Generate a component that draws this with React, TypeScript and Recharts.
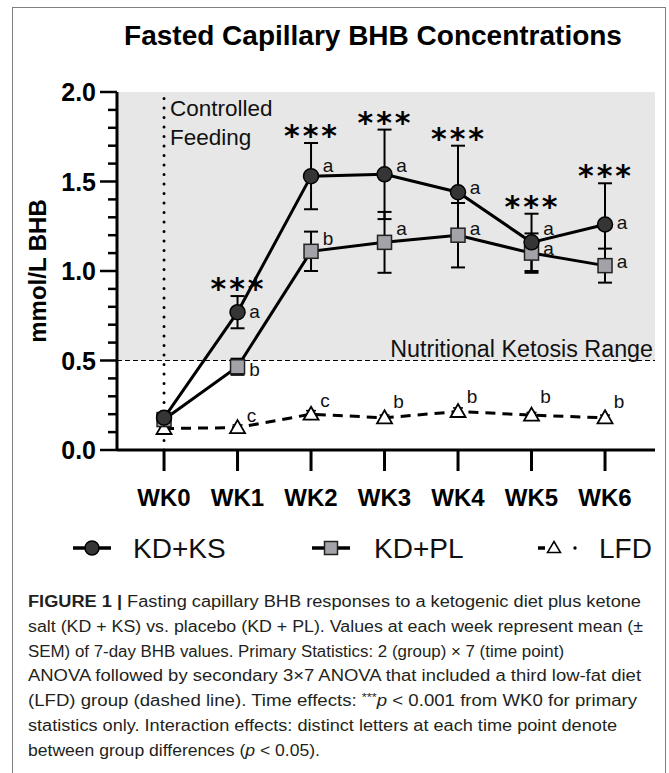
import React from "react";
import {
  LineChart,
  Line,
  XAxis,
  YAxis,
  ErrorBar,
  ReferenceArea,
  ReferenceLine,
} from "recharts";

// weeks on the x axis
const WEEKS = ["WK0", "WK1", "WK2", "WK3", "WK4", "WK5", "WK6"];
const X_TICKS = [0, 1, 2, 3, 4, 5, 6];

// KD+KS (circles)
const KS_MEAN = [0.18, 0.77, 1.53, 1.54, 1.44, 1.16, 1.26];
const KS_SEM = [0.02, 0.09, 0.185, 0.25, 0.26, 0.16, 0.23];
const KS_LETTERS = ["", "a", "a", "a", "a", "a", "a"];
const KS_STARS = ["", "***", "***", "***", "***", "***", "***"];

// KD+PL (squares)
const PL_MEAN = [0.17, 0.465, 1.11, 1.16, 1.2, 1.1, 1.03];
const PL_SEM = [0.02, 0.045, 0.11, 0.17, 0.18, 0.11, 0.095];
const PL_LETTERS = ["", "b", "b", "a", "a", "a", "a"];

// LFD (triangles, dashed)
const LFD_MEAN = [0.12, 0.125, 0.2, 0.18, 0.215, 0.195, 0.18];
const LFD_SEM = [0.01, 0.015, 0.02, 0.015, 0.02, 0.015, 0.015];
const LFD_LETTERS = ["", "c", "c", "b", "b", "b", "b"];

const Y_TICKS = [0, 0.1, 0.2, 0.3, 0.4, 0.5, 0.6, 0.7, 0.8, 0.9, 1, 1.1, 1.2, 1.3, 1.4, 1.5, 1.6, 1.7, 1.8, 1.9, 2];
const Y_MAJOR = [0, 0.5, 1, 1.5, 2];

const CAPTION = [
  "Fasting capillary BHB responses to a ketogenic diet plus ketone",
  "salt (KD + KS) vs. placebo (KD + PL). Values at each week represent mean (±",
  "SEM) of 7-day BHB values. Primary Statistics: 2 (group) × 7 (time point)",
  "ANOVA followed by secondary 3×7 ANOVA that included a third low-fat diet",
  "(LFD) group (dashed line). Time effects: ",
  "statistics only. Interaction effects: distinct letters at each time point denote",
  "between group differences (",
];
const CAPTION_ENDS = [641, 643, 564, 641, 637, 617, 320];

// letter label nudges (px), per point
const KS_DY = [0, -1, -11, -9, -5, -14, -2];
const PL_DY = [0, 3, -13, -14, -7, -5, -4];
const LFD_DY = [0, -12, -14, -16, -15, -19, -16];

const FONT = "'Liberation Sans', Arial, Helvetica, sans-serif";

const data = WEEKS.map((week, i) => ({
  x: i,
  week,
  ks: KS_MEAN[i],
  ksErr: KS_SEM[i],
  ksTop: KS_MEAN[i] + KS_SEM[i],
  pl: PL_MEAN[i],
  plErr: PL_SEM[i],
  lfd: LFD_MEAN[i],
  lfdErr: LFD_SEM[i],
}));

const letterStyle = { fontFamily: FONT, fontSize: 19, fill: "#111" };

const KsDot = (p: any) => {
  const { cx, cy, index } = p;
  return (
    <g key={`ks-${index}`}>
      <circle cx={cx} cy={cy} r={7.5} fill="#353535" stroke="#000" strokeWidth={1.5} />
      {KS_LETTERS[index] && (
        <text x={cx + 17} y={cy + KS_DY[index]} textAnchor="middle" dominantBaseline="central" {...letterStyle}>
          {KS_LETTERS[index]}
        </text>
      )}
    </g>
  );
};

const PlDot = (p: any) => {
  const { cx, cy, index } = p;
  return (
    <g key={`pl-${index}`}>
      <rect x={cx - 7} y={cy - 7} width={14} height={14} fill="#a2a2a8" stroke="#222" strokeWidth={1.5} />
      {PL_LETTERS[index] && (
        <text x={cx + 17} y={cy + PL_DY[index]} textAnchor="middle" dominantBaseline="central" {...letterStyle}>
          {PL_LETTERS[index]}
        </text>
      )}
    </g>
  );
};

const LfdDot = (p: any) => {
  const { cx, cy, index } = p;
  return (
    <g key={`lfd-${index}`}>
      <path
        d={`M${cx},${cy - 7.5} L${cx + 7.5},${cy + 5.5} L${cx - 7.5},${cy + 5.5} Z`}
        fill="#fff"
        stroke="#000"
        strokeWidth={1.8}
      />
      {LFD_LETTERS[index] && (
        <text x={cx + 14} y={cy + LFD_DY[index]} textAnchor="middle" dominantBaseline="central" {...letterStyle}>
          {LFD_LETTERS[index]}
        </text>
      )}
    </g>
  );
};

const StarDot = (p: any) => {
  const { cx, cy, index } = p;
  if (!KS_STARS[index]) return <g key={`st-${index}`} />;
  return (
    <text
      key={`st-${index}`}
      x={cx + 1}
      y={cy - 13 + 16}
      textAnchor="middle"
      fontFamily="'DejaVu Sans', sans-serif"
      fontWeight="bold"
      fontSize={30}
      letterSpacing={3}
      fill="#000"
    >
      {KS_STARS[index]}
    </text>
  );
};

const YTick = (p: any) => {
  const { x, y, payload } = p;
  const major = Y_MAJOR.some((m) => Math.abs(m - payload.value) < 1e-6);
  return (
    <g>
      <line x1={x - (major ? 17 : 9)} x2={x} y1={y} y2={y} stroke="#000" strokeWidth={2.5} />
      {major && (
        <text x={x - 21} y={y} dy="0.36em" textAnchor="end" fontFamily={FONT} fontWeight="bold" fontSize={25} fill="#000">
          {payload.value.toFixed(1)}
        </text>
      )}
    </g>
  );
};

const XTick = (p: any) => {
  const { x, y, payload } = p;
  return (
    <g>
      <line x1={x} x2={x} y1={y} y2={y + 21} stroke="#000" strokeWidth={3} />
      <text x={x} y={y + 56} textAnchor="middle" fontFamily={FONT} fontWeight="bold" fontSize={24} fill="#000">
        {WEEKS[payload.value]}
      </text>
    </g>
  );
};

export default function App() {
  const capY = (i: number) => 607 + i * 24.8;
  return (
    <div style={{ position: "absolute", left: 0, top: 0, width: 669, height: 773, background: "#fff", overflow: "hidden" }}>
      <div
        style={{
          position: "absolute",
          left: 12,
          top: 7,
          width: 654,
          height: 820,
          border: "1.5px solid #808080",
          boxSizing: "border-box",
        }}
      />
      <div style={{ position: "absolute", left: 0, top: 0 }}>
        <LineChart width={669} height={590} data={data} margin={{ top: 92, right: 14, bottom: 80, left: 57 }}>
          <ReferenceArea y1={0.5} y2={2} fill="#e7e7e7" fillOpacity={1} stroke="none" />
          <ReferenceLine
            y={0.5}
            stroke="#000"
            strokeWidth={1.2}
            strokeDasharray="5 3"
            label={(lp: any) => (
              <text
                x={lp.viewBox.x + lp.viewBox.width - 2}
                y={lp.viewBox.y - 4}
                textAnchor="end"
                fontFamily={FONT}
                fontSize={23.3}
                fill="#111"
              >
                Nutritional Ketosis Range
              </text>
            )}
          />
          <ReferenceLine
            x={0}
            stroke="#000"
            strokeWidth={3}
            strokeDasharray="0 9.5"
            strokeLinecap="round"
            label={(lp: any) => (
              <text x={lp.viewBox.x + 6} fontFamily={FONT} fontSize={22.5} fill="#111">
                <tspan x={lp.viewBox.x + 6} y={lp.viewBox.y + 24}>Controlled</tspan>
                <tspan x={lp.viewBox.x + 6} y={lp.viewBox.y + 53}>Feeding</tspan>
              </text>
            )}
          />
          <XAxis
            dataKey="x"
            type="number"
            domain={[-0.64, 6.68]}
            allowDataOverflow
            ticks={X_TICKS}
            interval={0}
            height={60}
            axisLine={{ stroke: "#000", strokeWidth: 3 }}
            tickLine={false}
            tickSize={0}
            tickMargin={0}
            tick={<XTick />}
          />
          <YAxis
            width={60}
            type="number"
            domain={[0, 2]}
            ticks={Y_TICKS}
            interval={0}
            allowDataOverflow
            axisLine={{ stroke: "#000", strokeWidth: 3 }}
            tickLine={false}
            tickSize={0}
            tickMargin={0}
            tick={<YTick />}
          />
          <Line
            dataKey="lfd"
            stroke="#000"
            strokeWidth={3}
            strokeDasharray="10 7"
            dot={LfdDot}
            activeDot={false}
            isAnimationActive={false}
          >
            <ErrorBar dataKey="lfdErr" width={5} stroke="#000" strokeWidth={1.5} direction="y" />
          </Line>
          <Line dataKey="pl" stroke="#000" strokeWidth={3} dot={PlDot} activeDot={false} isAnimationActive={false}>
            <ErrorBar dataKey="plErr" width={7} stroke="#000" strokeWidth={2} direction="y" />
          </Line>
          <Line dataKey="ks" stroke="#000" strokeWidth={3} dot={KsDot} activeDot={false} isAnimationActive={false}>
            <ErrorBar dataKey="ksErr" width={7} stroke="#000" strokeWidth={2} direction="y" />
          </Line>
          <Line dataKey="ksTop" stroke="none" dot={StarDot} activeDot={false} isAnimationActive={false} />
        </LineChart>
      </div>
      <svg width={669} height={773} style={{ position: "absolute", left: 0, top: 0, pointerEvents: "none" }}>
        <text x={373} y={45} textAnchor="middle" fontFamily={FONT} fontWeight="bold" fontSize={28} fill="#000">
          Fasted Capillary BHB Concentrations
        </text>
        <text
          transform="translate(37,271) rotate(-90)"
          textAnchor="middle"
          dy="0.36em"
          fontFamily={FONT}
          fontWeight="bold"
          fontSize={24}
          fill="#000"
        >
          mmol/L BHB
        </text>

        {/* legend */}
        <g fontFamily={FONT} fontSize={28} fill="#111">
          <line x1={73} x2={111} y1={548} y2={548} stroke="#000" strokeWidth={3.5} />
          <circle cx={92} cy={548} r={7} fill="#353535" stroke="#000" strokeWidth={1.5} />
          <text x={133} y={558}>KD+KS</text>
          <line x1={312} x2={350} y1={548} y2={548} stroke="#000" strokeWidth={3.5} />
          <rect x={324.5} y={541.5} width={13} height={13} fill="#a2a2a8" stroke="#222" strokeWidth={1.5} />
          <text x={374} y={558}>KD+PL</text>
          <line x1={538} x2={545} y1={548} y2={548} stroke="#000" strokeWidth={3.5} />
          <path d="M554,541.5 L560.5,552.5 L547.5,552.5 Z" fill="#fff" stroke="#000" strokeWidth={1.5} />
          <circle cx={575} cy={548} r={1.7} fill="#000" />
          <text x={599} y={558}>LFD</text>
        </g>

        {/* caption */}
        <g fontFamily={FONT} fontSize={16} fill="#231f20">
          {CAPTION.map((line, i) => (
            <text key={i} x={28} y={capY(i)} textLength={CAPTION_ENDS[i] - 28} lengthAdjust="spacingAndGlyphs">
              {i === 0 && <tspan fontWeight="bold">FIGURE 1 | </tspan>}
              {line}
              {i === 4 && (
                <>
                  <tspan fontSize={11} dy={-5}>***</tspan>
                  <tspan fontStyle="italic" dy={5}>p</tspan>
                  {" < 0.001 from WK0 for primary"}
                </>
              )}
              {i === 6 && (
                <>
                  <tspan fontStyle="italic">p</tspan>
                  {" < 0.05)."}
                </>
              )}
            </text>
          ))}
        </g>
      </svg>
    </div>
  );
}
